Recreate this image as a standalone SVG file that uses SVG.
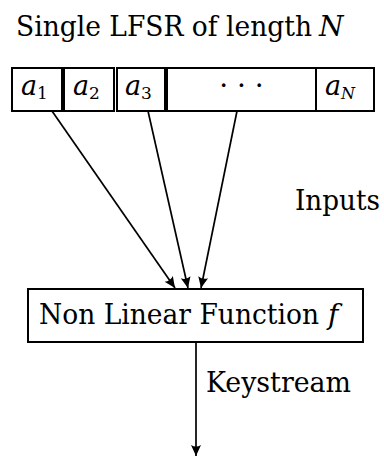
<svg xmlns="http://www.w3.org/2000/svg" width="384" height="457" viewBox="0 0 384 457">
  <style>
    text { font-family: 'DejaVu Serif', 'Liberation Serif', serif; font-size: 28px; fill: #000; }
    .m { font-style: italic; }
    .cell { font-size: 27px; font-style: italic; }
    .sub { font-size: 17px; font-style: normal; }
    .subi { font-size: 16px; font-style: italic; }
    .box { fill: #fff; stroke: #000; stroke-width: 2; }
    .edge { stroke: #000; stroke-width: 1.7; fill: none; marker-end: url(#ah); }
  </style>
  <defs>
    <marker id="ah" viewBox="-12 -6 13 12" refX="0" refY="0" markerWidth="13" markerHeight="12" markerUnits="userSpaceOnUse" orient="auto">
      <path d="M0,0 L-11,-5 Q-8,0 -11,5 Z" fill="#000"/>
    </marker>
  </defs>
  <rect width="384" height="457" fill="#fff"/>

  <g id="title">
    <text x="16" y="36" font-size="27" textLength="296" lengthAdjust="spacingAndGlyphs">Single LFSR of length</text>
    <text class="m" x="319" y="36">N</text>
  </g>

  <g id="cell-a1">
    <rect class="box" x="12" y="68" width="50" height="43"/>
    <text class="cell" x="21" y="95">a<tspan class="sub" dy="4">1</tspan></text>
  </g>
  <g id="cell-a2">
    <rect class="box" x="64" y="68" width="50" height="43"/>
    <text class="cell" x="73" y="95">a<tspan class="sub" dy="4">2</tspan></text>
  </g>
  <g id="cell-a3">
    <rect class="box" x="117" y="68" width="48" height="43"/>
    <text class="cell" x="125" y="95">a<tspan class="sub" dy="4">3</tspan></text>
  </g>
  <g id="cell-dots">
    <rect class="box" x="167" y="68" width="149" height="43"/>
    <text x="241.5" y="95" text-anchor="middle">· · ·</text>
  </g>
  <g id="cell-aN">
    <rect class="box" x="316" y="68" width="58" height="43"/>
    <text class="cell" x="325" y="95">a<tspan class="subi" dy="4">N</tspan></text>
  </g>

  <g id="nlf">
    <rect class="box" x="28" y="289" width="335" height="53"/>
    <text x="39" y="324" font-size="27" textLength="280" lengthAdjust="spacingAndGlyphs">Non Linear Function</text>
    <text class="m" x="328" y="324">f</text>
  </g>

  <g id="connectors">
    <line class="edge" x1="52" y1="111" x2="175" y2="288"/>
    <line class="edge" x1="148" y1="111" x2="188" y2="288"/>
    <line class="edge" x1="237" y1="111" x2="201" y2="288"/>
    <line class="edge" x1="196" y1="342" x2="196" y2="456"/>
  </g>

  <g id="labels">
    <text x="295" y="210" font-size="25" textLength="85" lengthAdjust="spacingAndGlyphs">Inputs</text>
    <text x="206" y="392" textLength="145" lengthAdjust="spacingAndGlyphs">Keystream</text>
  </g>
</svg>
